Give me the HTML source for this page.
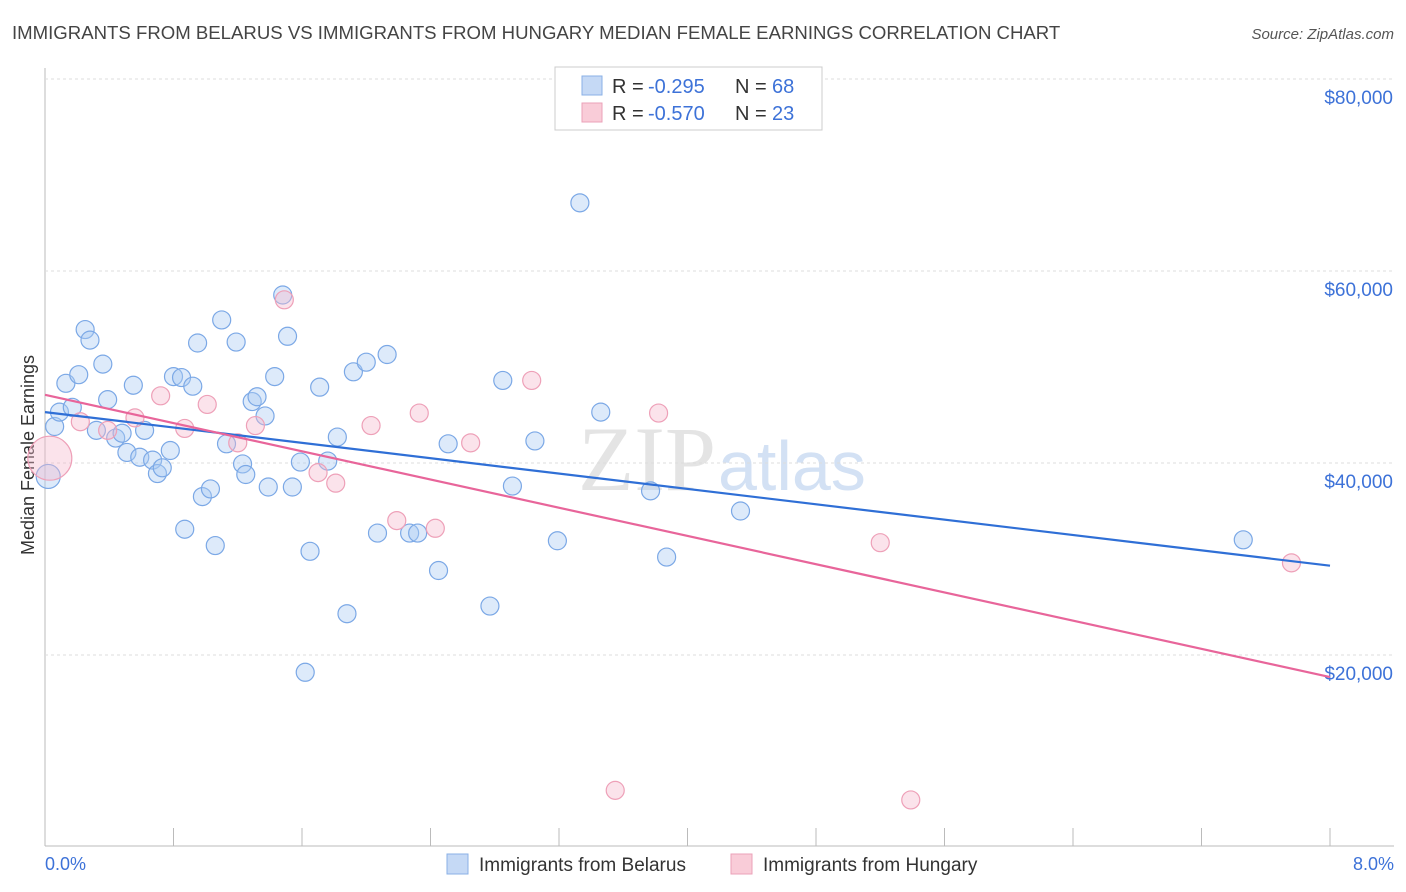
<!DOCTYPE html>
<html><head><meta charset="utf-8"><style>
body{margin:0;background:#fff;font-family:"Liberation Sans",sans-serif;}
svg{display:block}
</style></head><body>
<svg id="c" width="1406" height="892">
<text x="12" y="39" font-size="18.6" fill="#444">IMMIGRANTS FROM BELARUS VS IMMIGRANTS FROM HUNGARY MEDIAN FEMALE EARNINGS CORRELATION CHART</text>
<text x="1394" y="39" font-size="15" fill="#555" font-style="italic" text-anchor="end">Source: ZipAtlas.com</text>
<text x="716" y="490" font-size="92" fill="#e4e4e4" text-anchor="end" font-family="Liberation Serif">ZIP</text>
<text x="718" y="490" font-size="70" fill="#d3e1f4">atlas</text>
<text transform="translate(34,455) rotate(-90)" font-size="18" fill="#333" text-anchor="middle">Median Female Earnings</text>
<g id="grid"></g><g id="pts"></g><g id="lines"></g>
<g>
<rect x="555" y="67" width="267" height="63" fill="#fff" stroke="#ccc"/>
<rect x="582" y="76" width="20" height="19" fill="#c5d9f5" stroke="#8ab0e6"/>
<rect x="582" y="103" width="20" height="19" fill="#f9ccd8" stroke="#eba2b8"/>
<text x="612" y="93" font-size="20" fill="#333">R =</text>
<text x="648" y="93" font-size="20" fill="#3d72d8">-0.295</text>
<text x="735" y="93" font-size="20" fill="#333">N =</text>
<text x="772" y="93" font-size="20" fill="#3d72d8">68</text>
<text x="612" y="120" font-size="20" fill="#333">R =</text>
<text x="648" y="120" font-size="20" fill="#3d72d8">-0.570</text>
<text x="735" y="120" font-size="20" fill="#333">N =</text>
<text x="772" y="120" font-size="20" fill="#3d72d8">23</text>
</g>
<g>
<rect x="447" y="854" width="21" height="20" fill="#c5d9f5" stroke="#8ab0e6"/>
<text x="479" y="871" font-size="19" fill="#333">Immigrants from Belarus</text>
<rect x="731" y="854" width="21" height="20" fill="#f9ccd8" stroke="#eba2b8"/>
<text x="763" y="871" font-size="19" fill="#333">Immigrants from Hungary</text>
</g>
<text x="45" y="870" font-size="18" fill="#3d72d8">0.0%</text>
<text x="1394" y="870" font-size="18" fill="#3d72d8" text-anchor="end">8.0%</text>
</svg>
<script>
const yTicks=[20000,40000,60000,80000];
const yTickLabels=["$20,000","$40,000","$60,000","$80,000"];
const xTicks=[0,0.8,1.6,2.4,3.2,4,4.8,5.6,6.4,7.2,8];
const belX=[0.02,0.06,0.09,0.13,0.17,0.21,0.25,0.28,0.32,0.36,0.39,0.44,0.48,0.51,0.55,0.59,0.62,0.67,0.70,0.73,0.78,0.80,0.85,0.87,0.92,0.95,0.98,1.03,1.06,1.10,1.13,1.19,1.23,1.25,1.29,1.32,1.37,1.39,1.43,1.48,1.51,1.54,1.59,1.65,1.71,1.76,1.82,1.88,1.92,2.00,2.07,2.13,2.27,2.32,2.45,2.51,2.77,2.85,2.91,3.05,3.19,3.33,3.46,3.77,3.87,4.33,7.46,1.62];
const belY=[38600,43800,45300,48300,45800,49200,53900,52800,43400,50300,46600,42600,43100,41100,48100,40600,43400,40300,38900,39500,41300,49000,48900,33100,48000,52500,36500,37300,31400,54900,42000,52600,39900,38800,46400,46900,44900,37500,49000,57500,53200,37500,40100,30800,47900,40200,42700,24300,49500,50500,32700,51300,32700,32700,28800,42000,25100,48600,37600,42300,31900,67100,45300,37100,30200,35000,32000,18200];
const hunX=[0.03,0.22,0.39,0.56,0.72,0.87,1.01,1.20,1.31,1.49,1.70,1.81,2.03,2.19,2.33,2.43,2.65,3.03,3.55,3.82,5.20,5.39,7.76];
const hunY=[40500,44300,43400,44700,47000,43600,46100,42100,43900,57000,39000,37900,43900,34000,45200,33200,42100,48600,5900,45200,31700,4900,29600];
const belTrend=[45300,29300];
const hunTrend=[47100,17700];
const X=v=>45+v/8*1285, Y=v=>847-v/20000*192;
const NS="http://www.w3.org/2000/svg";
function mk(t,a,p){const e=document.createElementNS(NS,t);for(const k in a)e.setAttribute(k,a[k]);p.appendChild(e);return e;}
const grid=document.getElementById('grid'),pts=document.getElementById('pts'),lines=document.getElementById('lines');
mk('line',{x1:45,y1:68,x2:45,y2:846,stroke:'#bbb'},grid);
mk('line',{x1:45,y1:846,x2:1394,y2:846,stroke:'#bbb'},grid);
yTicks.forEach((t,i)=>{
 const g=mk('line',{x1:45,y1:Y(t),x2:1394,y2:Y(t),stroke:'#ddd','stroke-dasharray':'3,3'},grid);
 
 
 const l=mk('text',{x:1393,y:Y(t)+25,'font-size':19,fill:'#3d72d8','text-anchor':'end'},grid);
 l.textContent=yTickLabels[i];
 
 
});
xTicks.forEach(t=>{
 const e=mk('line',{x1:X(t),y1:828,x2:X(t),y2:846,stroke:'#bbb'},grid);
 
 
});
belX.forEach((x,i)=>{
 const c=mk('circle',{cx:X(x),cy:Y(belY[i]),r:i==0?12:9,fill:'rgba(170,202,242,0.4)',stroke:'#7ba8e6','stroke-width':1.2},pts);
 
 
});
hunX.forEach((x,i)=>{
 const c=mk('circle',{cx:X(x),cy:Y(hunY[i]),r:i==0?22:9,fill:'rgba(246,185,205,0.4)',stroke:'#eea0b8','stroke-width':1.2},pts);
 
 
});
const bl=mk('line',{x1:X(0),y1:Y(belTrend[0]),x2:X(8),y2:Y(belTrend[1]),stroke:'#2f6fd6','stroke-width':2.2},lines);


const hl=mk('line',{x1:X(0),y1:Y(hunTrend[0]),x2:X(8),y2:Y(hunTrend[1]),stroke:'#e8659a','stroke-width':2.2},lines);


</script>
</body></html>
